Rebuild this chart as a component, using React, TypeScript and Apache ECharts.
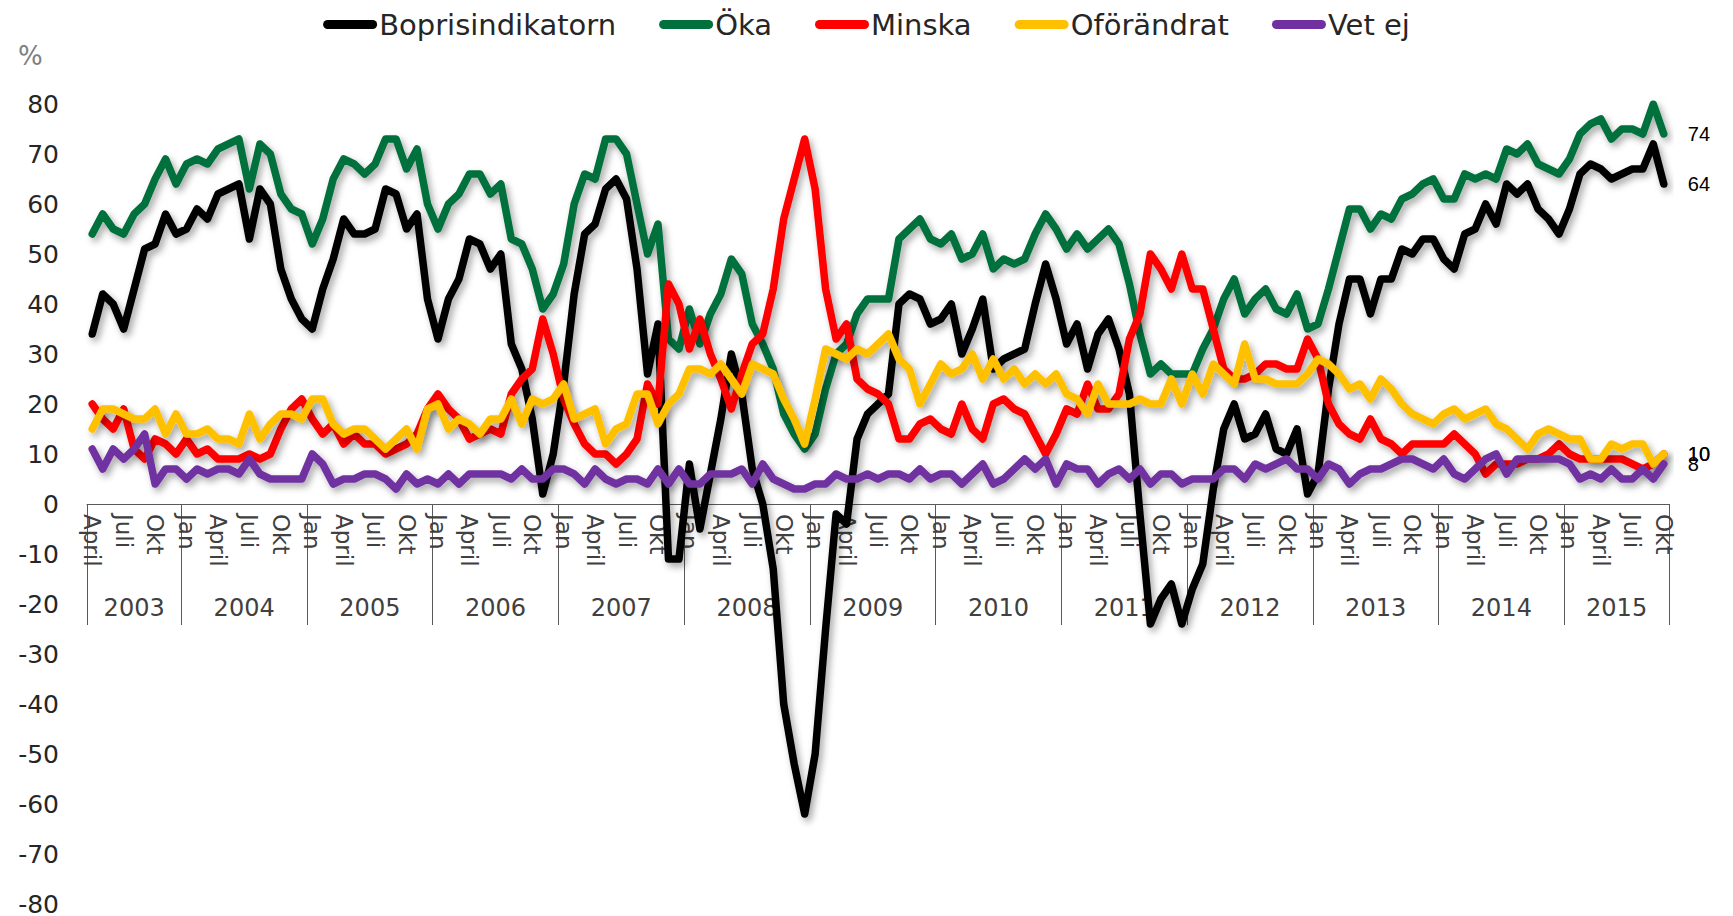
import React, { useEffect, useRef } from 'react';
import * as echarts from 'echarts';

// ---------- DATA ----------
const START_YEAR = 2003;
const START_MONTH = 3; // April (0-based month index)
const MONTH_NAMES = ['Jan', 'Feb', 'Mars', 'April', 'Maj', 'Juni', 'Juli', 'Aug', 'Sep', 'Okt', 'Nov', 'Dec'];
const SHOWN_MONTHS = ['Jan', 'April', 'Juli', 'Okt'];

const SERIES_NAMES = ['Boprisindikatorn', 'Öka', 'Minska', 'Oförändrat', 'Vet ej'];
const SERIES_COLORS = ['#000000', '#00703C', '#FF0000', '#FFC000', '#7030A0'];

// Monthly values, April 2003 – October 2015
const boprisindikatorn = [
  34, 42, 40, 35, 43, 51, 52, 58, 54,
  55, 59, 57, 62, 63, 64, 53, 63, 60, 47, 41, 37,
  35, 43, 49, 57, 54, 54, 55, 63, 62, 55, 58, 41,
  33, 41, 45, 53, 52, 47, 50, 32, 27, 17, 2, 10,
  24, 42, 54, 56, 63, 65, 61, 47, 26, 36, -11, -11,
  8, -5, 6, 17, 30, 22, 7, 0, -13, -40, -52, -62,
  -50, -25, -2, -4, 13, 18, 20, 22, 40, 42, 41, 36,
  37, 40, 30, 35, 41, 27, 29, 30, 31, 40, 48, 41,
  32, 36, 27, 34, 37, 31, 22, -2, -24, -19, -16, -24,
  -17, -12, 3, 15, 20, 13, 14, 18, 11, 10, 15, 2,
  6, 23, 36, 45, 45, 38, 45, 45, 51, 50, 53, 53,
  49, 47, 54, 55, 60, 56, 64, 62, 64, 59, 57, 54,
  59, 66, 68, 67, 65, 66, 67, 67, 72, 64,
];
const oka = [
  54, 58, 55, 54, 58, 60, 65, 69, 64,
  68, 69, 68, 71, 72, 73, 63, 72, 70, 62, 59, 58,
  52, 57, 65, 69, 68, 66, 68, 73, 73, 67, 71, 60,
  55, 60, 62, 66, 66, 62, 64, 53, 52, 47, 39, 42,
  48, 60, 66, 65, 73, 73, 70, 60, 50, 56, 33, 31,
  39, 32, 38, 42, 49, 46, 36, 32, 27, 18, 14, 11,
  14, 23, 30, 32, 38, 41, 41, 41, 53, 55, 57, 53,
  52, 54, 49, 50, 54, 47, 49, 48, 49, 54, 58, 55,
  51, 54, 51, 53, 55, 52, 44, 34, 26, 28, 26, 26,
  26, 31, 35, 41, 45, 38, 41, 43, 39, 38, 42, 35,
  36, 43, 51, 59, 59, 55, 58, 57, 61, 62, 64, 65,
  61, 61, 66, 65, 66, 65, 71, 70, 72, 68, 67, 66,
  69, 74, 76, 77, 73, 75, 75, 74, 80, 74,
];
const minska = [
  20, 17, 15, 19, 11, 9, 13, 12, 10,
  13, 10, 11, 9, 9, 9, 10, 9, 10, 15, 19, 21,
  17, 14, 16, 12, 14, 12, 12, 10, 11, 12, 14, 19,
  22, 19, 17, 13, 14, 15, 14, 22, 25, 27, 37, 30,
  21, 16, 12, 10, 10, 8, 10, 13, 24, 20, 44, 40,
  31, 37, 30, 25, 19, 26, 32, 34, 43, 57, 65, 73,
  63, 43, 33, 36, 25, 23, 22, 20, 13, 13, 16, 17,
  15, 14, 20, 15, 13, 20, 21, 19, 18, 14, 10, 14,
  19, 18, 24, 19, 19, 22, 33, 38, 50, 47, 43, 50,
  43, 43, 35, 27, 25, 25, 26, 28, 28, 27, 27, 33,
  29, 20, 16, 14, 13, 17, 13, 12, 10, 12, 12, 12,
  12, 14, 12, 10, 6, 8, 8, 8, 9, 9, 10, 12,
  10, 9, 9, 9, 9, 9, 8, 7, 8, 10,
];
const oforandrat = [
  15, 19, 19, 18, 17, 17, 19, 14, 18,
  14, 14, 15, 13, 13, 12, 18, 13, 16, 18, 18, 17,
  21, 21, 16, 14, 15, 15, 13, 11, 13, 15, 11, 19,
  20, 15, 17, 16, 14, 17, 17, 21, 16, 21, 20, 21,
  24, 17, 18, 19, 12, 15, 16, 22, 22, 16, 20, 22,
  27, 27, 26, 28, 25, 22, 28, 27, 26, 21, 17, 12,
  21, 31, 30, 29, 31, 30, 32, 34, 29, 27, 20, 24,
  28, 26, 27, 30, 25, 29, 25, 27, 24, 26, 24, 26,
  22, 21, 18, 24, 20, 20, 20, 21, 20, 20, 25, 20,
  26, 22, 28, 26, 24, 32, 25, 25, 24, 24, 24, 26,
  29, 28, 26, 23, 24, 21, 25, 23, 20, 18, 17, 16,
  18, 19, 17, 18, 19, 16, 15, 13, 11, 14, 15, 14,
  13, 13, 9, 9, 12, 11, 12, 12, 8, 10,
];
const vetEj = [
  11, 7, 11, 9, 11, 14, 4, 7, 7,
  5, 7, 6, 7, 7, 6, 9, 6, 5, 5, 5, 5,
  10, 8, 4, 5, 5, 6, 6, 5, 3, 6, 4, 5,
  4, 6, 4, 6, 6, 6, 6, 5, 7, 5, 5, 7,
  7, 6, 4, 7, 5, 4, 5, 5, 4, 7, 4, 7,
  4, 4, 6, 6, 6, 7, 4, 8, 5, 4, 3, 3,
  4, 4, 6, 5, 5, 6, 5, 6, 6, 5, 7, 5,
  6, 6, 4, 6, 8, 4, 5, 7, 9, 7, 9, 4,
  8, 7, 7, 4, 6, 7, 5, 7, 4, 6, 6, 4,
  5, 5, 5, 7, 7, 5, 8, 7, 8, 9, 7, 7,
  5, 8, 7, 4, 6, 7, 7, 8, 9, 9, 8, 7,
  9, 6, 5, 7, 9, 10, 6, 9, 9, 9, 9, 9,
  8, 5, 6, 5, 7, 5, 5, 7, 5, 8,
];
const SERIES_DATA = [boprisindikatorn, oka, minska, oforandrat, vetEj];

const Y_MIN = -80;
const Y_MAX = 80;
const Y_STEP = 10;

// category axis: one entry per month
const monthIndex = (k: number) => (START_MONTH + k) % 12;
const yearOf = (k: number) => START_YEAR + Math.floor((START_MONTH + k) / 12);
const categories: string[] = boprisindikatorn.map((_, k) => `${MONTH_NAMES[monthIndex(k)]} ${yearOf(k)}`);

// where each year label sits (middle of the year's months)
const yearLabelAt: Record<number, { year: number; half: boolean }> = {};
{
  const ranges: Record<number, [number, number]> = {};
  categories.forEach((_, k) => {
    const y = yearOf(k);
    if (!ranges[y]) ranges[y] = [k, k];
    else ranges[y][1] = k;
  });
  Object.keys(ranges).forEach((ys) => {
    const [s, e] = ranges[+ys];
    const mid = (s + e) / 2;
    yearLabelAt[Math.floor(mid)] = { year: +ys, half: mid !== Math.floor(mid) };
  });
}

const FONT = "'DejaVu Sans', Verdana, sans-serif";

export default function App() {
  const ref = useRef<HTMLDivElement>(null);

  useEffect(() => {
    if (!ref.current) return;
    const chart = echarts.init(ref.current, undefined, { renderer: 'svg' });

    const W = 1733;
    const H = 916;
    const gridLeft = 87;
    const gridRight = 64;
    const gridTop = 104;
    const gridBottom = 12;
    const band = (W - gridLeft - gridRight) / categories.length;
    const plotH = H - gridTop - gridBottom;
    // move the category axes up to the zero line
    const zeroOffset = -plotH * ((0 - Y_MIN) / (Y_MAX - Y_MIN));

    const option: any = {
      animation: false,
      backgroundColor: '#ffffff',
      legend: {
        top: 5,
        left: 'center',
        itemGap: 43,
        itemWidth: 54,
        itemHeight: 9,
        icon: 'path://M4.5,0 L49.5,0 A4.5,4.5 0 0 1 49.5,9 L4.5,9 A4.5,4.5 0 0 1 4.5,0 Z',
        textStyle: { fontSize: 29, color: '#262626', fontFamily: FONT, padding: [0, 0, 0, -3] },
        data: SERIES_NAMES,
      },
      graphic: [
        {
          type: 'text',
          left: 18,
          top: 43,
          style: { text: '%', fontSize: 26, fill: '#7f7f7f', fontFamily: FONT },
        },
      ],
      grid: {
        left: gridLeft,
        right: gridRight,
        top: gridTop,
        bottom: gridBottom,
        containLabel: false,
        outerBoundsMode: 'none',
      },
      xAxis: [
        {
          type: 'category',
          data: categories,
          boundaryGap: true,
          position: 'bottom',
          offset: zeroOffset,
          axisLine: { show: true, onZero: false, lineStyle: { color: '#595959', width: 1 } },
          axisTick: { show: false },
          splitLine: { show: false },
          axisLabel: {
            interval: (idx: number) => SHOWN_MONTHS.includes(MONTH_NAMES[monthIndex(idx)]),
            formatter: (_v: string, idx: number) => MONTH_NAMES[monthIndex(idx)],
            rotate: -90,
            margin: 10,
            fontSize: 23,
            color: '#404040',
            fontFamily: FONT,
            hideOverlap: false,
          },
        },
        {
          type: 'category',
          data: categories,
          boundaryGap: true,
          position: 'bottom',
          offset: zeroOffset,
          axisLine: { show: false, onZero: false },
          axisTick: {
            show: true,
            length: 121,
            interval: (idx: number) => idx === 0 || monthIndex(idx) === 0,
            lineStyle: { color: '#595959', width: 1 },
          },
          splitLine: { show: false },
          axisLabel: {
            interval: (idx: number) => yearLabelAt[idx] !== undefined,
            formatter: (_v: string, idx: number) => {
              const info = yearLabelAt[idx];
              if (!info) return '';
              return info.half ? `{h|${info.year}}` : `{n|${info.year}}`;
            },
            margin: 92,
            hideOverlap: false,
            rich: {
              n: { fontSize: 24, color: '#404040', fontFamily: FONT },
              h: { fontSize: 24, color: '#404040', fontFamily: FONT, padding: [0, 0, 0, band] },
            },
          },
        },
      ],
      yAxis: {
        type: 'value',
        min: Y_MIN,
        max: Y_MAX,
        interval: Y_STEP,
        axisLine: { show: false },
        axisTick: { show: false },
        axisLabel: { fontSize: 25, color: '#262626', fontFamily: FONT, margin: 28 },
        splitLine: {
          show: true,
          lineStyle: {
            color: '#c0c0c0',
            width: 2.5,
            shadowColor: 'rgba(0,0,0,0.22)',
            shadowBlur: 4,
            shadowOffsetY: 3,
          },
        },
      },
      series: SERIES_NAMES.map((name, s) => ({
        name,
        type: 'line',
        xAxisIndex: 0,
        data: SERIES_DATA[s],
        symbol: 'none',
        showSymbol: false,
        smooth: false,
        itemStyle: { color: SERIES_COLORS[s] },
        lineStyle: {
          color: SERIES_COLORS[s],
          width: 7.5,
          cap: 'round',
          join: 'round',
          shadowColor: 'rgba(0,0,0,0.35)',
          shadowBlur: 7,
          shadowOffsetX: 3,
          shadowOffsetY: 4,
        },
        endLabel: {
          show: true,
          formatter: '{c}',
          distance: 24,
          color: '#000000',
          fontSize: 20,
          fontFamily: "'Liberation Sans', Arial, sans-serif",
        },
        emphasis: { disabled: true },
      })),
    };

    chart.setOption(option);
    return () => chart.dispose();
  }, []);

  return (
    <div
      ref={ref}
      style={{ position: 'absolute', left: 0, top: 0, width: 1733, height: 916, background: '#fff' }}
    />
  );
}
